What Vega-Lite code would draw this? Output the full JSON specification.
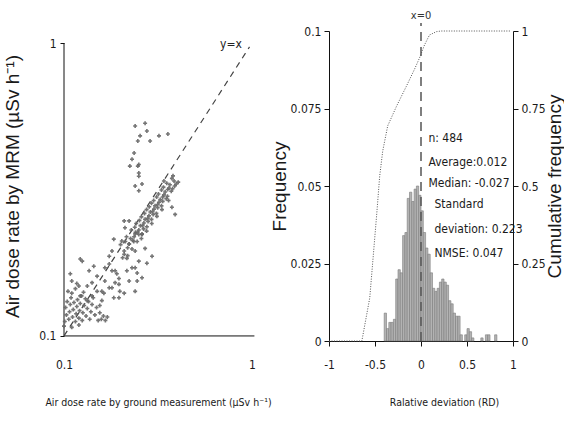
{
  "$schema": "https://vega.github.io/schema/vega-lite/v6.json",
  "background": "white",
  "padding": {"left": 3, "top": 10, "right": 0, "bottom": 0},
  "bounds": "flush",
  "spacing": 77,
  "config": {
    "view": {"stroke": null},
    "axis": {
      "grid": false,
      "labelFont": "DejaVu Sans Condensed, Liberation Sans Narrow, Liberation Sans",
      "labelFontSize": 12,
      "labelColor": "#1a1a1a",
      "titleFont": "Liberation Sans",
      "titleFontWeight": "normal",
      "titleColor": "#1a1a1a",
      "domainColor": "#111",
      "tickColor": "#111",
      "tickSize": 5,
      "labelFlush": false,
      "labelOverlap": false
    },
    "axisX": {"titleFont": "DejaVu Sans Condensed, Liberation Sans Narrow, Liberation Sans", "titleFontSize": 10.5, "labelPadding": 13, "titlePadding": 27},
    "axisY": {"titleFontSize": 19}
  },
  "datasets": {
    "frameLeft": [
      {"g": 0.1, "m": 0.1, "g2": 1.03, "m2": 0.1},
      {"g": 0.1, "m": 0.1, "g2": 0.1, "m2": 1}
    ],
    "identity": [
      {"g": 0.1, "m": 0.1},
      {"g": 0.97, "m": 0.97}
    ],
    "scatter": [
      {"g":0.101,"m":0.112},{"g":0.103,"m":0.118},{"g":0.102,"m":0.125},{"g":0.104,"m":0.131},{"g":0.106,"m":0.114},
      {"g":0.107,"m":0.121},{"g":0.108,"m":0.128},{"g":0.109,"m":0.135},{"g":0.111,"m":0.116},{"g":0.112,"m":0.123},
      {"g":0.113,"m":0.130},{"g":0.115,"m":0.112},{"g":0.116,"m":0.119},{"g":0.117,"m":0.126},{"g":0.118,"m":0.133},
      {"g":0.120,"m":0.115},{"g":0.121,"m":0.122},{"g":0.122,"m":0.129},{"g":0.124,"m":0.137},{"g":0.125,"m":0.113},
      {"g":0.126,"m":0.120},{"g":0.128,"m":0.127},{"g":0.130,"m":0.134},{"g":0.131,"m":0.117},{"g":0.133,"m":0.124},
      {"g":0.135,"m":0.131},{"g":0.137,"m":0.114},{"g":0.139,"m":0.121},{"g":0.141,"m":0.128},{"g":0.143,"m":0.135},
      {"g":0.146,"m":0.118},{"g":0.149,"m":0.125},{"g":0.152,"m":0.113},{"g":0.155,"m":0.120},{"g":0.158,"m":0.114},
      {"g":0.162,"m":0.117},{"g":0.166,"m":0.113},{"g":0.170,"m":0.116},{"g":0.110,"m":0.140},{"g":0.105,"m":0.142},
      {"g":0.115,"m":0.145},{"g":0.127,"m":0.141},{"g":0.100,"m":0.108},{"g":0.110,"m":0.107},{"g":0.120,"m":0.109},
      {"g":0.120,"m":0.148},{"g":0.133,"m":0.148},{"g":0.141,"m":0.152},{"g":0.150,"m":0.142},{"g":0.165,"m":0.154},
      {"g":0.180,"m":0.146},{"g":0.187,"m":0.152},{"g":0.196,"m":0.150},{"g":0.209,"m":0.140},{"g":0.184,"m":0.135},
      {"g":0.159,"m":0.142},{"g":0.122,"m":0.183},{"g":0.144,"m":0.173},{"g":0.136,"m":0.167},{"g":0.108,"m":0.163},
      {"g":0.174,"m":0.187},{"g":0.174,"m":0.176},{"g":0.180,"m":0.167},{"g":0.191,"m":0.163},{"g":0.209,"m":0.190},
      {"g":0.216,"m":0.184},{"g":0.216,"m":0.167},{"g":0.230,"m":0.171},{"g":0.245,"m":0.164},{"g":0.245,"m":0.154},
      {"g":0.198,"m":0.142},{"g":0.117,"m":0.151},{"g":0.163,"m":0.140},{"g":0.122,"m":0.137},{"g":0.125,"m":0.180},
      {"g":0.110,"m":0.154},{"g":0.187,"m":0.167},{"g":0.196,"m":0.157},{"g":0.196,"m":0.135},{"g":0.174,"m":0.146},
      {"g":0.159,"m":0.132},{"g":0.165,"m":0.171},{"g":0.180,"m":0.195},{"g":0.203,"m":0.211},{"g":0.211,"m":0.234},
      {"g":0.222,"m":0.247},{"g":0.150,"m":0.160},{"g":0.141,"m":0.137},{"g":0.133,"m":0.132},{"g":0.155,"m":0.127},
      {"g":0.239,"m":0.223},{"g":0.239,"m":0.195},{"g":0.239,"m":0.171},{"g":0.260,"m":0.223},{"g":0.270,"m":0.199},
      {"g":0.222,"m":0.206},{"g":0.250,"m":0.180},{"g":0.260,"m":0.158},{"g":0.222,"m":0.154},{"g":0.239,"m":0.142},
      {"g":0.276,"m":0.177},{"g":0.294,"m":0.187},{"g":0.390,"m":0.260},{"g":0.375,"m":0.275},{"g":0.360,"m":0.290},
      {"g":0.209,"m":0.195},{"g":0.200,"m":0.205},{"g":0.218,"m":0.188},{"g":0.212,"m":0.210},{"g":0.205,"m":0.185},
      {"g":0.222,"m":0.206},{"g":0.215,"m":0.218},{"g":0.230,"m":0.198},{"g":0.226,"m":0.215},{"g":0.218,"m":0.200},
      {"g":0.235,"m":0.210},{"g":0.236,"m":0.218},{"g":0.228,"m":0.230},{"g":0.245,"m":0.210},{"g":0.240,"m":0.226},
      {"g":0.232,"m":0.212},{"g":0.250,"m":0.222},{"g":0.238,"m":0.235},{"g":0.250,"m":0.230},{"g":0.242,"m":0.242},
      {"g":0.260,"m":0.222},{"g":0.255,"m":0.238},{"g":0.246,"m":0.226},{"g":0.265,"m":0.232},{"g":0.252,"m":0.248},
      {"g":0.258,"m":0.215},{"g":0.266,"m":0.243},{"g":0.258,"m":0.255},{"g":0.276,"m":0.236},{"g":0.270,"m":0.250},
      {"g":0.262,"m":0.238},{"g":0.280,"m":0.246},{"g":0.268,"m":0.262},{"g":0.275,"m":0.228},{"g":0.283,"m":0.257},
      {"g":0.275,"m":0.270},{"g":0.292,"m":0.250},{"g":0.288,"m":0.265},{"g":0.279,"m":0.252},{"g":0.298,"m":0.260},
      {"g":0.284,"m":0.276},{"g":0.293,"m":0.242},{"g":0.301,"m":0.271},{"g":0.292,"m":0.284},{"g":0.310,"m":0.262},
      {"g":0.305,"m":0.278},{"g":0.296,"m":0.266},{"g":0.315,"m":0.274},{"g":0.300,"m":0.290},{"g":0.312,"m":0.256},
      {"g":0.320,"m":0.286},{"g":0.311,"m":0.298},{"g":0.330,"m":0.278},{"g":0.325,"m":0.292},{"g":0.315,"m":0.281},
      {"g":0.335,"m":0.288},{"g":0.318,"m":0.305},{"g":0.332,"m":0.270},{"g":0.340,"m":0.303},{"g":0.330,"m":0.315},
      {"g":0.350,"m":0.294},{"g":0.345,"m":0.310},{"g":0.335,"m":0.298},{"g":0.355,"m":0.300},{"g":0.338,"m":0.322},
      {"g":0.362,"m":0.320},{"g":0.352,"m":0.332},{"g":0.372,"m":0.312},{"g":0.366,"m":0.328},{"g":0.356,"m":0.316},
      {"g":0.378,"m":0.318},{"g":0.385,"m":0.338},{"g":0.375,"m":0.345},{"g":0.395,"m":0.330},{"g":0.388,"m":0.325},
      {"g":0.405,"m":0.335},{"g":0.380,"m":0.352},
      {"g":0.239,"m":0.521},{"g":0.270,"m":0.532},{"g":0.276,"m":0.501},{"g":0.254,"m":0.482},{"g":0.287,"m":0.463},
      {"g":0.320,"m":0.482},{"g":0.357,"m":0.489},{"g":0.236,"m":0.421},{"g":0.230,"m":0.401},{"g":0.247,"m":0.380},
      {"g":0.250,"m":0.351},{"g":0.260,"m":0.330},{"g":0.250,"m":0.313},{"g":0.247,"m":0.463},{"g":0.224,"m":0.380},
      {"g":0.250,"m":0.385},{"g":0.250,"m":0.360},{"g":0.239,"m":0.325},{"g":0.184,"m":0.214},{"g":0.209,"m":0.247},
      {"g":0.340,"m":0.338}
    ],
    "hist": [
      {"a":-0.4,"b":-0.375,"f":0.009},{"a":-0.375,"b":-0.35,"f":0.004},{"a":-0.35,"b":-0.325,"f":0.006},
      {"a":-0.325,"b":-0.3,"f":0.006},{"a":-0.3,"b":-0.275,"f":0.007},{"a":-0.275,"b":-0.25,"f":0.02},
      {"a":-0.25,"b":-0.225,"f":0.023},{"a":-0.225,"b":-0.2,"f":0.022},{"a":-0.2,"b":-0.175,"f":0.034},
      {"a":-0.175,"b":-0.15,"f":0.035},{"a":-0.15,"b":-0.125,"f":0.046},{"a":-0.125,"b":-0.1,"f":0.048},
      {"a":-0.1,"b":-0.075,"f":0.045},{"a":-0.075,"b":-0.05,"f":0.049},{"a":-0.05,"b":-0.025,"f":0.05},
      {"a":-0.025,"b":0,"f":0.047},{"a":0,"b":0.025,"f":0.042},{"a":0.025,"b":0.05,"f":0.035},
      {"a":0.05,"b":0.075,"f":0.03},{"a":0.075,"b":0.1,"f":0.028},{"a":0.1,"b":0.125,"f":0.022},
      {"a":0.125,"b":0.15,"f":0.017},{"a":0.15,"b":0.175,"f":0.016},{"a":0.175,"b":0.2,"f":0.017},
      {"a":0.2,"b":0.225,"f":0.019},{"a":0.225,"b":0.25,"f":0.02},{"a":0.25,"b":0.275,"f":0.019},
      {"a":0.275,"b":0.3,"f":0.018},{"a":0.3,"b":0.325,"f":0.013},{"a":0.325,"b":0.35,"f":0.012},
      {"a":0.35,"b":0.375,"f":0.009},{"a":0.375,"b":0.4,"f":0.008},{"a":0.4,"b":0.425,"f":0.008},
      {"a":0.425,"b":0.45,"f":0.002},{"a":0.475,"b":0.5,"f":0.002},{"a":0.5,"b":0.525,"f":0.004},
      {"a":0.525,"b":0.55,"f":0.003},{"a":0.55,"b":0.575,"f":0.001},{"a":0.65,"b":0.675,"f":0.001},
      {"a":0.7,"b":0.725,"f":0.002},{"a":0.725,"b":0.75,"f":0.002},{"a":0.8,"b":0.825,"f":0.002}
    ],
    "cumulative": [
      {"a":-1,"c":0},{"a":-0.643,"c":0},{"a":-0.557,"c":0.139},{"a":-0.481,"c":0.41},
      {"a":-0.449,"c":0.532},{"a":-0.416,"c":0.613},{"a":-0.362,"c":0.694},{"a":-0.265,"c":0.758},
      {"a":-0.157,"c":0.823},{"a":-0.07,"c":0.877},{"a":-0.016,"c":0.913},{"a":0.038,"c":0.955},
      {"a":0.092,"c":0.987},{"a":0.168,"c":0.998},{"a":0.22,"c":1},{"a":0.978,"c":1}
    ],
    "stats": [
      {"a":0.081,"f":0.0655,"t":"n: 484"},
      {"a":0.081,"f":0.0577,"t":"Average:0.012"},
      {"a":0.081,"f":0.051,"t":"Median: -0.027"},
      {"a":0.146,"f":0.0442,"t":"Standard"},
      {"a":0.146,"f":0.0361,"t":"deviation: 0.223"},
      {"a":0.146,"f":0.0284,"t":"NMSE: 0.047"}
    ]
  },
  "hconcat": [
    {
      "width": 188,
      "height": 310,
      "encoding": {
        "x": {
          "field": "g", "type": "quantitative",
          "scale": {"type": "log", "domain": [0.1, 1], "nice": false},
          "axis": {"values": [0.1, 1], "format": "~g", "domain": false, "ticks": false, "labelPadding": 18,
                   "title": "Air dose rate by ground measurement (µSv h⁻¹)"}
        },
        "y": {
          "field": "m", "type": "quantitative",
          "scale": {"type": "log", "domain": [0.0961, 1.099], "nice": false},
          "axis": {"values": [0.1, 1], "format": "~g", "domain": false, "tickSize": 4, "labelPadding": 4,
                   "titlePadding": 16, "title": "Air dose rate by MRM (µSv h⁻¹)"}
        }
      },
      "layer": [
        {
          "data": {"name": "frameLeft"},
          "mark": {"type": "rule", "color": "#111", "strokeWidth": 1},
          "encoding": {"x2": {"field": "g2"}, "y2": {"field": "m2"}}
        },
        {
          "data": {"name": "identity"},
          "mark": {"type": "line", "color": "#444", "strokeDash": [6, 5], "strokeWidth": 1.2},
          "encoding": {}
        },
        {
          "data": {"name": "scatter"},
          "mark": {"type": "point", "shape": "cross", "filled": true, "size": 16, "color": "#666", "opacity": 0.9}
        },
        {
          "data": {"values": [{"g": 0.773, "m": 0.99, "t": "y=x"}]},
          "mark": {"type": "text", "font": "DejaVu Sans Condensed, Liberation Sans Narrow, Liberation Sans", "fontSize": 12, "color": "#222"},
          "encoding": {"text": {"field": "t"}}
        }
      ]
    },
    {
      "width": 184,
      "height": 310,
      "encoding": {
        "x": {
          "field": "a", "type": "quantitative",
          "scale": {"domain": [-1, 1], "nice": false},
          "axis": {"values": [-1, -0.5, 0, 0.5, 1], "format": "~g", "labelExpr": "replace(datum.label, '−', '-')",
                   "titleX": 115, "title": "Ralative deviation (RD)"}
        }
      },
      "layer": [
        {
          "encoding": {
            "y": {
              "field": "f", "type": "quantitative", "stack": null,
              "scale": {"domain": [0, 0.1], "nice": false},
              "axis": {"values": [0, 0.025, 0.05, 0.075, 0.1], "format": ".3~f", "labelPadding": 3, "titlePadding": 1,
                       "title": "Frequency"}
            }
          },
          "layer": [
            {
              "data": {"name": "hist"},
              "mark": {"type": "bar", "fill": "#b3b3b3", "stroke": "#7a7a7a", "strokeWidth": 0.6},
              "encoding": {"x2": {"field": "b"}, "y2": {"datum": 0}}
            },
            {
              "data": {"values": [{"a": 0, "f": 0, "f2": 0.1026}]},
              "mark": {"type": "rule", "color": "#555", "strokeDash": [9, 6], "strokeWidth": 1.5},
              "encoding": {"y2": {"field": "f2"}}
            },
            {
              "data": {"values": [{"a": 0, "f": 0.1048, "t": "x=0"}]},
              "mark": {"type": "text", "font": "DejaVu Sans Condensed, Liberation Sans Narrow, Liberation Sans", "fontSize": 11, "color": "#333"},
              "encoding": {"text": {"field": "t"}}
            },
            {
              "data": {"name": "stats"},
              "mark": {"type": "text", "align": "left", "font": "DejaVu Sans Condensed, Liberation Sans Narrow, Liberation Sans", "fontSize": 12, "color": "#1a1a1a"},
              "encoding": {"text": {"field": "t"}}
            }
          ]
        },
        {
          "data": {"name": "cumulative"},
          "mark": {"type": "line", "color": "#555", "strokeDash": [1, 1.5], "strokeWidth": 1},
          "encoding": {
            "y": {
              "field": "c", "type": "quantitative",
              "scale": {"domain": [0, 1], "nice": false},
              "axis": {"orient": "right", "values": [0, 0.25, 0.5, 0.75, 1], "format": ".2~f", "labelPadding": 3,
                       "titlePadding": 19, "titleAngle": 270, "title": "Cumulative frequency"}
            }
          }
        }
      ],
      "resolve": {"scale": {"y": "independent"}}
    }
  ]
}
